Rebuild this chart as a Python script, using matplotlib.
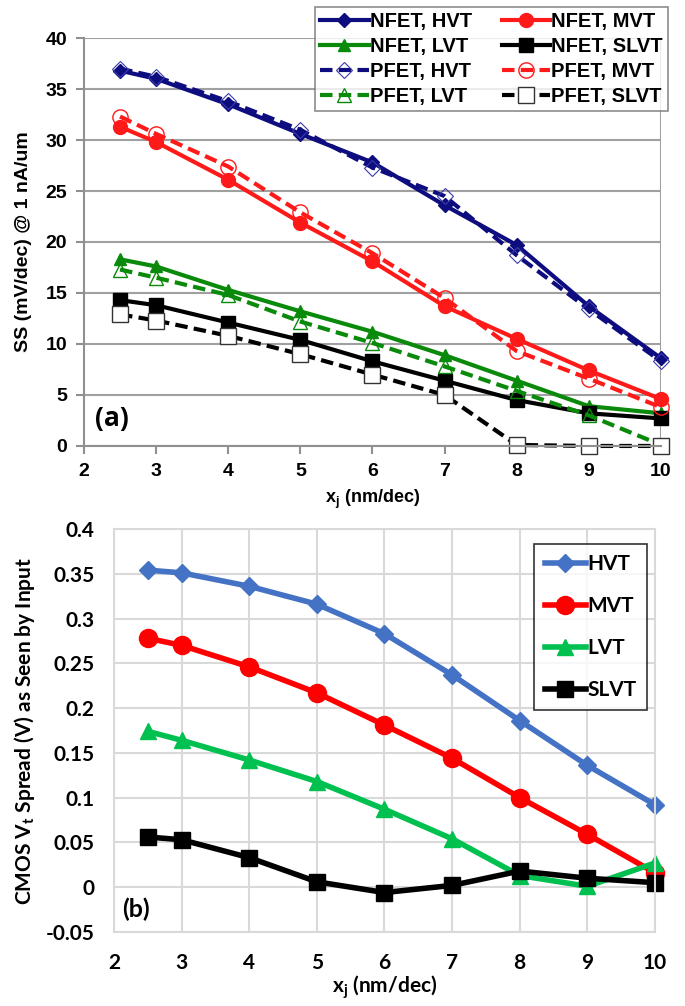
import numpy as np
import matplotlib
matplotlib.use("Agg")
import matplotlib.pyplot as plt
from matplotlib.font_manager import FontProperties

# x positions (nm/dec)
xj = [2.5, 3, 4, 5, 6, 7, 8, 9, 10]

# panel (a): SS @ 1 nA/um
nfet_hvt = [36.8, 36.0, 33.5, 30.6, 27.8, 23.6, 19.7, 13.7, 8.6]
pfet_hvt = [37.0, 36.2, 33.8, 31.0, 27.3, 24.5, 18.7, 13.4, 8.3]
nfet_mvt = [31.3, 29.8, 26.1, 21.9, 18.1, 13.7, 10.5, 7.4, 4.6]
pfet_mvt = [32.3, 30.6, 27.4, 22.9, 18.9, 14.5, 9.3, 6.6, 3.8]
nfet_lvt = [18.3, 17.6, 15.3, 13.2, 11.2, 8.9, 6.4, 3.9, 3.2]
pfet_lvt = [17.3, 16.5, 14.8, 12.2, 10.1, 7.8, 5.4, 3.0, 0.1]
nfet_slvt = [14.3, 13.8, 12.1, 10.4, 8.3, 6.4, 4.5, 3.2, 2.7]
pfet_slvt = [12.9, 12.3, 10.8, 9.0, 7.0, 5.0, 0.1, 0.0, 0.0]

# panel (b): CMOS Vt spread
hvt = [0.354, 0.351, 0.336, 0.316, 0.283, 0.237, 0.186, 0.136, 0.092]
mvt = [0.278, 0.270, 0.246, 0.217, 0.181, 0.144, 0.100, 0.059, 0.016]
lvt = [0.174, 0.164, 0.142, 0.118, 0.087, 0.054, 0.013, 0.001, 0.027]
slvt = [0.056, 0.053, 0.033, 0.006, -0.006, 0.002, 0.018, 0.010, 0.005]

fig = plt.figure(figsize=(6.85, 10.06), dpi=100)

# ---------- (a) ----------
ax1 = fig.add_axes([0.1226, 0.5567, 0.8423, 0.4055])
fa = dict(family="Liberation Sans", weight="bold")
navy, red, green, blk = "#0d0d80", "#ff1a1a", "#0a8a0a", "#000000"

def ln(ax, y, c, m, ls, filled, ms, lab):
    if filled:
        fc, ec = c, c
    elif m == "s":
        fc, ec = "white", "#333333"
    else:
        fc, ec = "none", c
    return ax.plot(xj, y, color=c, lw=3, marker=m, ms=ms, mfc=fc, mec=ec,
                   mew=1, label=lab, clip_on=False,
                   dashes=(3, 1.5) if ls == "--" else (None, None))[0]

h1 = ln(ax1, nfet_hvt, navy, "D", "-", True, 7, "NFET, HVT")
h2 = ln(ax1, nfet_mvt, red, "o", "-", True, 10, "NFET, MVT")
h3 = ln(ax1, nfet_lvt, green, "^", "-", True, 9, "NFET, LVT")
h4 = ln(ax1, nfet_slvt, blk, "s", "-", True, 10, "NFET, SLVT")
h5 = ln(ax1, pfet_hvt, navy, "D", "--", False, 8, "PFET, HVT")
h6 = ln(ax1, pfet_mvt, red, "o", "--", False, 11, "PFET, MVT")
h7 = ln(ax1, pfet_lvt, green, "^", "--", False, 10, "PFET, LVT")
h8 = ln(ax1, pfet_slvt, blk, "s", "--", False, 11, "PFET, SLVT")
h5.set_mec("#3a3aa8"); h5.set_mew(0.8)

ax1.set_xlim(2, 10)
ax1.set_ylim(0, 40)
ax1.set_xticks(range(2, 11))
ax1.set_yticks(range(0, 41, 5))
ax1.yaxis.grid(True, color="#a0a0a0", lw=1.5)
ax1.axvline(10, color="#a0a0a0", lw=1.5, zorder=0)
ax1.set_axisbelow(True)
for s in ["top", "right"]:
    ax1.spines[s].set_visible(False)
for s in ["left", "bottom"]:
    ax1.spines[s].set_color("#909090")
    ax1.spines[s].set_linewidth(1.5)
ax1.tick_params(direction="out", color="#909090", width=1.5, length=6, pad=6)
for t in ax1.get_xticklabels() + ax1.get_yticklabels():
    t.set_fontproperties(FontProperties(family="Liberation Sans", weight="bold", size=14))
ax1.set_ylabel("SS (mV/dec) @ 1 nA/um", fontdict=dict(size=14, **fa), labelpad=10)
ax1.set_xlabel("x$_\\mathregular{j}$ (nm/dec)", fontdict=dict(size=13, **fa), labelpad=6)
ax1.text(2.15, 2.0, "(a)", fontsize=19, family="Open Sans", weight="bold")
leg1 = ax1.legend(handles=[h1, h3, h5, h7, h2, h4, h6, h8], ncol=2,
                  loc="upper right", bbox_to_anchor=(1.012, 1.076),
                  prop=dict(family="Liberation Sans", weight="bold", size=14.5),
                  frameon=True, fancybox=False, edgecolor="#707070",
                  handlelength=2.4, handletextpad=0.05, columnspacing=1.5,
                  labelspacing=0.3, borderpad=0.25, borderaxespad=0)
leg1.get_frame().set_linewidth(1.2)

# ---------- (b) ----------
ax2 = fig.add_axes([0.1664, 0.0736, 0.7898, 0.4006])
fb = dict(family="Lato", weight="bold")
c_h, c_m, c_l, c_s = "#4472c4", "#ff0000", "#00c050", "#000000"
ax2.plot(xj, hvt, color=c_h, lw=4, marker="D", ms=9, label="HVT", clip_on=False)
ax2.plot(xj, mvt, color=c_m, lw=4, marker="o", ms=13, label="MVT", clip_on=False)
ax2.plot(xj, lvt, color=c_l, lw=4, marker="^", ms=12, label="LVT", clip_on=False)
ax2.plot(xj, slvt, color=c_s, lw=4, marker="s", ms=12, label="SLVT", clip_on=False)
ax2.set_xlim(2, 10)
ax2.set_ylim(-0.05, 0.4)
ax2.set_xticks(range(2, 11))
yt = np.arange(-0.05, 0.401, 0.05)
ax2.set_yticks(yt)
ax2.set_yticklabels(["-0.05", "0", "0.05", "0.1", "0.15", "0.2", "0.25", "0.3", "0.35", "0.4"])
ax2.grid(True, color="#d9d9d9", lw=1.5)
ax2.set_axisbelow(True)
for s in ax2.spines.values():
    s.set_color("#d9d9d9")
    s.set_linewidth(1.5)
ax2.tick_params(axis="y", length=0, pad=14)
ax2.tick_params(axis="x", length=0, pad=15)
for t in ax2.get_xticklabels() + ax2.get_yticklabels():
    t.set_fontproperties(FontProperties(family="Lato", weight="bold", size=15))
ax2.set_ylabel("CMOS V$_\\mathregular{t}$ Spread (V) as Seen by Input", fontdict=dict(size=15, **fb), labelpad=6)
ax2.set_xlabel("x$_\\mathregular{j}$ (nm/dec)", fontdict=dict(size=15, **fb), labelpad=0)
ax2.text(2.12, -0.033, "(b)", fontsize=18, **fb)
leg2 = ax2.legend(loc="upper right", bbox_to_anchor=(0.985, 0.963),
                  prop=dict(family="Lato", weight="bold", size=15),
                  frameon=True, fancybox=False, edgecolor="black",
                  handlelength=2.0, handletextpad=0.05, labelspacing=1.05,
                  borderpad=0.5, borderaxespad=0)
leg2.get_frame().set_linewidth(1.2)

fig.savefig("out.png", dpi=100)
